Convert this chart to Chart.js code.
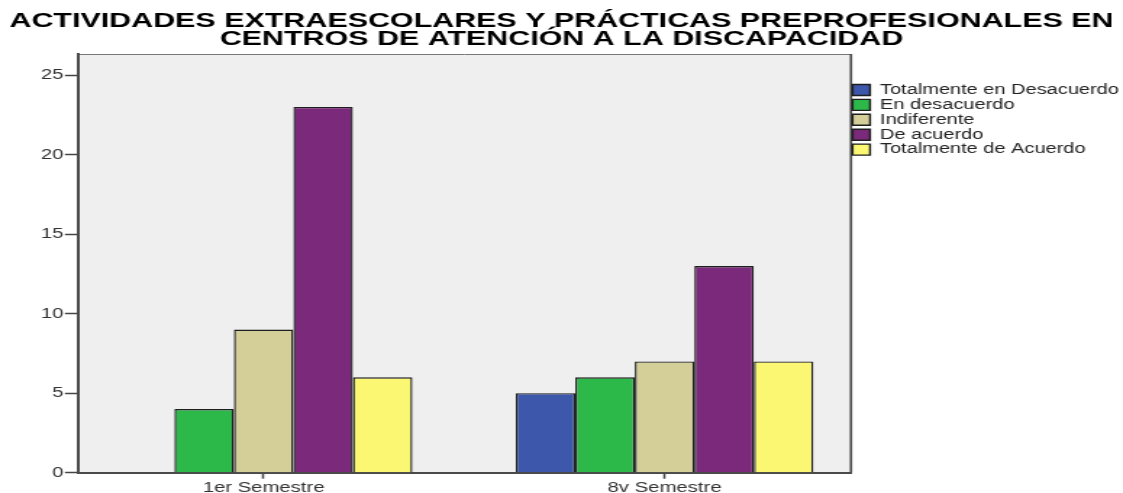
<!DOCTYPE html>
<html>
<head>
<meta charset="utf-8">
<script src="https://cdn.jsdelivr.net/npm/chart.js@4/dist/chart.umd.min.js"></script>
<style>
  html, body { margin: 0; padding: 0; background: #fff; }
  #chart { display: block; }
</style>
</head>
<body>
<!-- drawn narrow and widened by CSS, like the exported SPSS figure -->
<canvas id="chart" width="775" height="493" style="width:1123px;height:493px"></canvas>
<script>
const categories = ['1er Semestre', '8v Semestre'];
const seriesNames = ['Totalmente en Desacuerdo', 'En desacuerdo', 'Indiferente', 'De acuerdo', 'Totalmente de Acuerdo'];
const totalDesacuerdo = [0, 5];
const enDesacuerdo = [4, 6];
const indiferente = [9, 7];
const deAcuerdo = [23, 13];
const totalAcuerdo = [6, 7];
const yTicks = [0, 5, 10, 15, 20, 25];

const seriesValues = [totalDesacuerdo, enDesacuerdo, indiferente, deAcuerdo, totalAcuerdo];
const seriesColors = ['#3d57ab', '#2db84a', '#d4cf98', '#7b297a', '#fbf772'];
const FONT = "'Liberation Sans', Arial, sans-serif";

// grey plot background and thin frame around the chart area
const plotFrame = {
  id: 'plotFrame',
  beforeDraw(chart) {
    const { ctx, chartArea: a } = chart;
    ctx.save();
    ctx.fillStyle = '#efefef';
    ctx.fillRect(a.left, a.top, a.width, a.height);
    ctx.strokeStyle = '#777';
    ctx.lineWidth = 1;
    ctx.beginPath();
    ctx.moveTo(a.left, a.top + 0.5);
    ctx.lineTo(a.right, a.top + 0.5);
    ctx.stroke();
    ctx.strokeStyle = '#444';
    ctx.lineWidth = 1.6;
    ctx.beginPath();
    ctx.moveTo(a.right, a.top);
    ctx.lineTo(a.right, a.bottom);
    ctx.stroke();
    ctx.restore();
  }
};

const chart = new Chart(document.getElementById('chart'), {
  type: 'bar',
  data: {
    datasets: seriesNames.map((name, s) => ({
      label: name,
      data: seriesValues[s].map((v, i) => ({ x: i, y: v })),
      backgroundColor: seriesColors[s],
      borderColor: '#1e1e1e',
      borderWidth: 1.4,
      categoryPercentage: 0.742,
      barPercentage: 1
    }))
  },
  options: {
    responsive: false,
    animation: false,
    devicePixelRatio: 1,
    plugins: {
      title: {
        display: true,
        text: ['ACTIVIDADES EXTRAESCOLARES Y PRÁCTICAS PREPROFESIONALES EN',
               'CENTROS DE ATENCIÓN A LA DISCAPACIDAD'],
        color: '#000',
        font: { family: FONT, size: 21, weight: 'bold', lineHeight: 0.843 },
        padding: { top: 12.5, bottom: 6.1 }
      },
      legend: {
        position: 'right',
        align: 'start',
        fullSize: false,
        maxWidth: 187.7,
        title: { display: true, text: '', font: { size: 10, lineHeight: 1 }, padding: { top: 18, bottom: 0 } },
        labels: {
          boxWidth: 12,
          boxHeight: 11,
          padding: 1.1,
          color: '#222',
          font: { family: FONT, size: 13.8 }
        }
      },
      tooltip: { enabled: false }
    },
    scales: {
      x: {
        type: 'linear',
        min: -0.463,
        max: 1.465,
        offset: false,
        z: 1,
        afterBuildTicks: (scale) => { scale.ticks = categories.map((c, i) => ({ value: i })); },
        afterFit: (scale) => { scale.height = 20.3; },
        ticks: {
          padding: 2,
          color: '#333',
          font: { family: FONT, size: 14, lineHeight: 1 },
          callback: (v) => categories[v]
        },
        grid: { offset: false, drawOnChartArea: false, drawTicks: true, tickLength: 6, tickWidth: 1.5, tickColor: '#444' },
        border: { display: true, color: '#4a4a4a', width: 2 }
      },
      y: {
        min: 0,
        max: 26.33,
        z: 1,
        afterBuildTicks: (scale) => { scale.ticks = yTicks.map(v => ({ value: v })); },
        afterFit: (scale) => { scale.width = 53.8; },
        ticks: {
          padding: 1,
          color: '#333',
          font: { family: FONT, size: 14 }
        },
        grid: { drawOnChartArea: false, drawTicks: true, tickLength: 9, tickWidth: 1.5, tickColor: '#444' },
        border: { display: true, color: '#4a4a4a', width: 2 }
      }
    }
  },
  plugins: [plotFrame]
});
// keep the stretched display size
chart.canvas.style.width = '1123px';
chart.canvas.style.height = '493px';
</script>
</body>
</html>
